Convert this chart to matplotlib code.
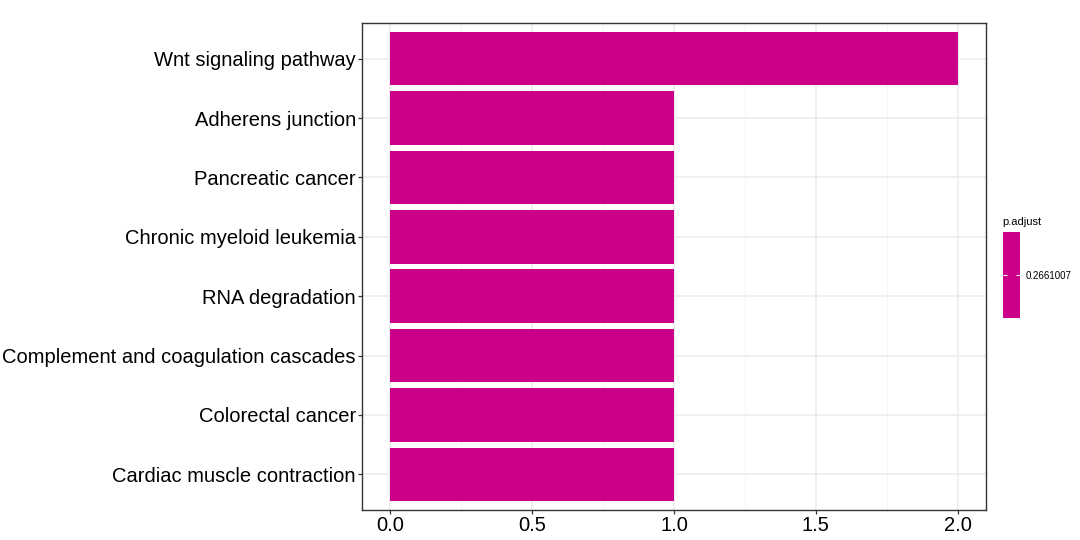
import numpy as np
import matplotlib.pyplot as plt
from matplotlib.colors import ListedColormap, Normalize
from matplotlib.cm import ScalarMappable
from matplotlib.ticker import MultipleLocator

# Dataset
pathways = [
    "Wnt signaling pathway",
    "Adherens junction",
    "Pancreatic cancer",
    "Chronic myeloid leukemia",
    "RNA degradation",
    "Complement and coagulation cascades",
    "Colorectal cancer",
    "Cardiac muscle contraction",
]
counts = [2, 1, 1, 1, 1, 1, 1, 1]
p_adjust = 0.2661007

bar_color = "#CC0088"
plt.rcParams['font.family'] = ['Liberation Sans', 'DejaVu Sans']

fig = plt.figure(figsize=(10.8, 5.4), dpi=100)
ax = fig.add_axes([0.3352, 0.0556, 0.5778, 0.9018])

y = np.arange(len(pathways))[::-1] + 1
ax.barh(y, counts, height=0.9, color=bar_color, zorder=3)

ax.set_xlim(-0.1, 2.1)
ax.set_ylim(0.4, len(pathways) + 0.6)
ax.set_yticks(y)
ax.set_yticklabels(pathways)
ax.xaxis.set_minor_locator(MultipleLocator(0.25))
ax.set_xticks(np.arange(0, 2.01, 0.5))
ax.set_xticklabels(["0.0", "0.5", "1.0", "1.5", "2.0"])

ax.grid(which='major', color='#EBEBEB', linewidth=1.1, zorder=0)
ax.grid(which='minor', axis='x', color='#F2F2F2', linewidth=0.6, zorder=0)
for s in ax.spines.values():
    s.set_color('#333333')
    s.set_linewidth(1.0)
ax.tick_params(axis='both', which='major', labelsize=14.5, colors='#333333',
               labelcolor='black', length=3, width=0.9, pad=1.5)
ax.tick_params(axis='x', which='minor', length=0)

# Colour legend
cax = fig.add_axes([0.9287, 0.411, 0.0157, 0.159])
sm = ScalarMappable(norm=Normalize(vmin=p_adjust - 1e-7, vmax=p_adjust + 1e-7),
                    cmap=ListedColormap([bar_color]))
cb = fig.colorbar(sm, cax=cax, ticks=[p_adjust])
cb.ax.set_yticklabels(["%.7f" % p_adjust])
cb.outline.set_visible(False)
cb.ax.tick_params(length=3, color='white', labelsize=7, pad=4, direction='in')
cb.ax.tick_params(left=True, length=3, color='white', direction='in')
fig.text(0.928, 0.584, "p.adjust", fontsize=8)

plt.savefig("out.png")
